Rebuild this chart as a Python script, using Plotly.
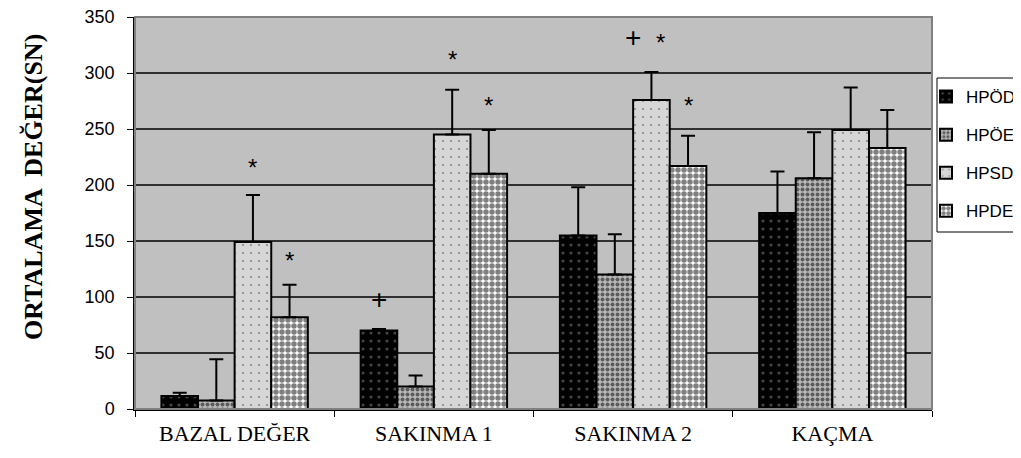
import plotly.graph_objects as go

categories = ["BAZAL DEĞER", "SAKINMA 1", "SAKINMA 2", "KAÇMA"]
series_names = ["HPÖD", "HPÖE", "HPSD", "HPDE"]
hpod = [11.5, 70, 155, 175]
hpoe = [7.5, 20, 120, 206]
hpsd = [149, 245, 276, 249]
hpde = [82, 210, 217, 233]
hpod_err = [3, 1.5, 43, 37]
hpoe_err = [37, 10, 36, 41]
hpsd_err = [42, 40, 25, 38]
hpde_err = [29, 39, 27, 34]
y_ticks = [0, 50, 100, 150, 200, 250, 300, 350]

# significance marks: (category, series index, symbol, y value)
marks = [
    ("BAZAL DEĞER", 2, "*", 216),
    ("BAZAL DEĞER", 3, "*", 133),
    ("SAKINMA 1", 0, "+", 98),
    ("SAKINMA 1", 2, "*", 312),
    ("SAKINMA 1", 3, "*", 271),
    ("SAKINMA 2", 1.5, "+", 332),
    ("SAKINMA 2", 2.25, "*", 327),
    ("SAKINMA 2", 3, "*", 271),
]

values = [hpod, hpoe, hpsd, hpde]
errors = [hpod_err, hpoe_err, hpsd_err, hpde_err]
patterns = [
    dict(shape=".", bgcolor="#000000", fgcolor="#8a8a8a", size=8, solidity=0.12),
    dict(shape=".", bgcolor="#b8b8b8", fgcolor="#000000", size=5, solidity=0.5),
    dict(shape=".", bgcolor="#d6d6d6", fgcolor="#404040", size=8, solidity=0.06),
    dict(shape=".", bgcolor="#ffffff", fgcolor="#000000", size=6, solidity=0.65),
]

fig = go.Figure()
for i, name in enumerate(series_names):
    fig.add_trace(go.Bar(
        name=name, x=categories, y=values[i], legendgroup=name,
        marker=dict(color=patterns[i]["bgcolor"], pattern=patterns[i],
                    line=dict(color="black", width=2)),
        error_y=dict(type="data", array=errors[i], arrayminus=[0]*4,
                     symmetric=False, color="black", thickness=2, width=7),
    ))

OFF = 8  # page body margin
W, H = 1021 - OFF, 458 - OFF
L, T = 135 - OFF, 17 - OFF
R = (1021 - 932)
B = 458 - 409
plot_w = W - L - R
plot_h = H - T - B
cat_w = plot_w / len(categories)
bargap = 0.265
bar_w = cat_w * (1 - bargap) / 4


def px_x(px):
    return (px - OFF - L) / plot_w


def px_y(py):
    return 1 - (py - OFF - T) / plot_h


for cat, idx, sym, yv in marks:
    xs = (idx - 1.5) * bar_w
    fig.add_annotation(x=cat, y=yv, text=sym, showarrow=False, xshift=xs,
                       font=dict(family="Arial", size=24 if sym == "*" else 28,
                                 color="black"),
                       yanchor="middle")

# y-axis title
fig.add_annotation(xref="paper", yref="paper", x=px_x(33), y=px_y(187),
                   text="<b>ORTALAMA  DEĞER(SN)</b>", textangle=-90,
                   showarrow=False, xanchor="center", yanchor="middle",
                   font=dict(family="Liberation Serif", size=26, color="black"))

# plot border
fig.add_shape(type="rect", xref="paper", yref="paper", x0=0, x1=1, y0=0, y1=1,
              line=dict(color="#808080", width=2), layer="above")
# legend box
fig.add_shape(type="rect", xref="paper", yref="paper",
              x0=px_x(937), x1=px_x(1035), y0=px_y(232), y1=px_y(78),
              line=dict(color="black", width=1), fillcolor="white", layer="below")

fig.update_layout(
    width=W, height=H,
    margin=dict(l=L, r=R, t=T, b=B, autoexpand=False),
    paper_bgcolor="white", plot_bgcolor="#c0c0c0",
    barmode="group", bargap=bargap, bargroupgap=0,
    showlegend=True,
    legend=dict(x=px_x(926), xanchor="left",
                y=px_y(79), yanchor="top",
                font=dict(family="Arial", size=17, color="black"),
                bgcolor="rgba(0,0,0,0)", borderwidth=0, tracegroupgap=13,
                traceorder="grouped"),
    xaxis=dict(showline=True, linecolor="black", linewidth=1.5, ticks="outside",
               tickson="boundaries", ticklen=6, tickcolor="black",
               tickfont=dict(family="Liberation Serif", size=22, color="black"),
               ticklabelstandoff=4, showgrid=False),
    yaxis=dict(range=[0, 350], tickvals=y_ticks, showline=True, linecolor="black",
               linewidth=1.5, ticks="outside", ticklen=6, tickcolor="black",
               tickfont=dict(family="Arial", size=18, color="black"),
               ticklabeloverflow="allow", ticklabelstandoff=9,
               showgrid=True, gridcolor="#303030", gridwidth=1.5, zeroline=False),
)

fig.write_html("out.html")
